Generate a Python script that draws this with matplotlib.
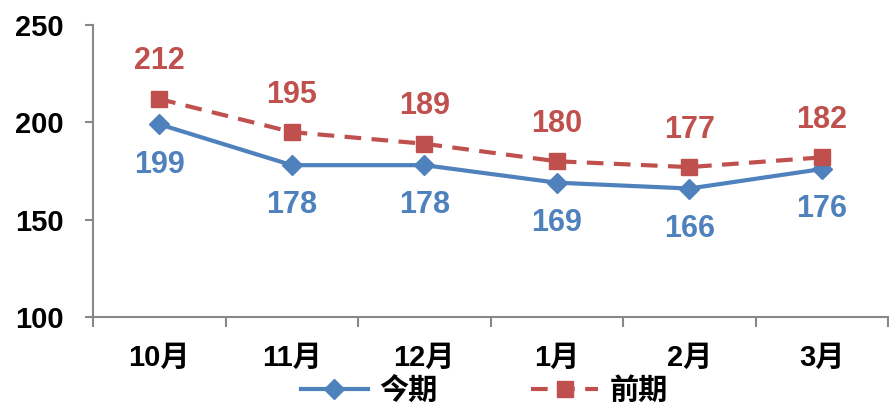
import matplotlib.pyplot as plt
from matplotlib.lines import Line2D

# data
months = ['10月', '11月', '12月', '1月', '2月', '3月']
current = [199, 178, 178, 169, 166, 176]
previous = [212, 195, 189, 180, 177, 182]
yticks = [100, 150, 200, 250]

BLUE = '#4F81BD'
RED = '#C0504D'
FONT = ['Liberation Sans', 'Noto Sans CJK SC']

plt.rcParams['font.family'] = FONT
plt.rcParams['font.weight'] = 'bold'

fig = plt.figure(figsize=(8.89, 4.07), dpi=100)
ax = fig.add_axes([0.1046, 0.2211, 0.8944, 0.7175])

x = list(range(len(months)))
ax.plot(x, current, color=BLUE, lw=3, marker='D', ms=10, zorder=3)
ax.plot(x, previous, color=RED, lw=3, ls=(0, (4, 2.5)), marker='s', ms=11, zorder=4)

for i in x:
    ax.annotate(str(previous[i]), (i, previous[i]), xytext=(0, 27), textcoords='offset points',
                ha='center', va='center', color=RED, fontsize=22, fontweight='bold')
    ax.annotate(str(current[i]), (i, current[i]), xytext=(0, -29), textcoords='offset points',
                ha='center', va='center', color=BLUE, fontsize=22, fontweight='bold')

ax.set_xlim(-0.5, len(months) - 0.5)
ax.set_ylim(100, 250)
ax.set_yticks(yticks)
ax.set_yticklabels([str(v) for v in yticks], fontsize=21, fontweight='bold')

# category boundaries as ticks, labels at centers
ax.set_xticks([i - 0.5 for i in range(len(months) + 1)])
ax.set_xticklabels([])
ax.set_xticks(x, minor=True)
ax.set_xticklabels(months, minor=True, fontsize=21, fontweight='bold')
ax.tick_params(axis='x', which='minor', length=0, pad=19)
ax.tick_params(axis='x', which='major', length=7, width=1.5, color='#888888')
ax.tick_params(axis='y', length=6, width=1.5, color='#888888', pad=15)

for s in ['top', 'right']:
    ax.spines[s].set_visible(False)
for s in ['left', 'bottom']:
    ax.spines[s].set_color('#888888')
    ax.spines[s].set_linewidth(1.5)

handles = [Line2D([], [], color=BLUE, lw=3, marker='D', ms=10),
           Line2D([], [], color=RED, lw=3, ls=(0, (4, 2.5)), marker='s', ms=11)]
fig.legend(handles, ['今期', '前期'], loc='center', bbox_to_anchor=(0.545, 0.04), ncol=2,
           frameon=False, handlelength=2.3, columnspacing=3.2, handletextpad=0.4,
           borderpad=0.2, prop={'family': FONT, 'weight': 'bold', 'size': 21})

fig.savefig('out.png', dpi=100)
